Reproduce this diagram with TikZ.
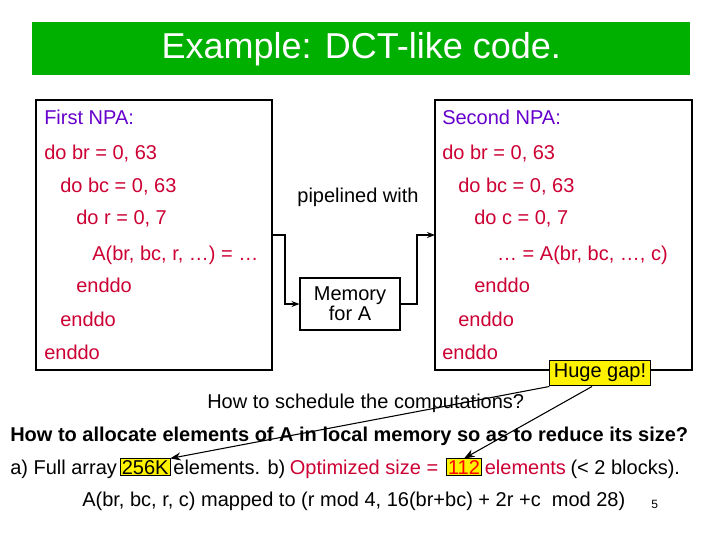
\documentclass[tikz,border=0pt]{standalone}
\usepackage{fontspec}
\setmainfont{Liberation Sans}
\usetikzlibrary{positioning, arrows, arrows.meta, calc}
\definecolor{npapurple}{RGB}{102,0,204}
\definecolor{codered}{RGB}{204,0,51}
\definecolor{titlegreen}{RGB}{0,176,0}
\tikzset{
	every edge/.style={draw, ->, >=stealth, thick},
	code/.style={anchor=base west, inner sep=0pt, text=codered, font=\fontsize{15}{17}\selectfont},
	txt/.style={anchor=base west, inner sep=0pt, font=\fontsize{15}{17}\selectfont},
	hl/.style={draw, fill=yellow, inner sep=1pt, font=\fontsize{15}{17}\selectfont}
}
\begin{document}
\begin{tikzpicture}[x=0.75pt, y=-0.75pt, box/.style={draw, thick}]
	\useasboundingbox (0,0) rectangle (720,540);
	% title
	\node[fill=titlegreen, minimum width=658*0.75pt, minimum height=53*0.75pt, anchor=north west, text=white, font=\fontsize{27}{30}\selectfont] (title) at (32,22) {Example: DCT-like code.};
	% the two loop nests
	\draw[box] (36,100) rectangle (272,370);
	\draw[box] (435,100) rectangle (692,370);
	\coordinate (L) at (272,235);
	\coordinate (R) at (435,235);
	\node[code, text=npapurple] (n1) at (44,124) {First NPA:};
	\node[code] (l1) at (44,159) {do br = 0, 63};
	\node[code] (l2) at (60,192) {do bc = 0, 63};
	\node[code] (l3) at (76,224) {do r = 0, 7};
	\node[code] (l4) at (92,260) {A(br, bc, r, …) = …};
	\node[code] (l5) at (76,292) {enddo};
	\node[code] (l6) at (60,326) {enddo};
	\node[code] (l7) at (44,359) {enddo};
	\node[code, text=npapurple] (n2) at (442,124) {Second NPA:};
	\node[code] (r1) at (442,159) {do br = 0, 63};
	\node[code] (r2) at (458,192) {do bc = 0, 63};
	\node[code] (r3) at (474,224) {do c = 0, 7};
	\node[code, anchor=base east] (r4) at (668,260) {… = A(br, bc, …, c)};
	\node[code] (r5) at (474,292) {enddo};
	\node[code] (r6) at (458,326) {enddo};
	\node[code] (r7) at (442,359) {enddo};
	\node[txt, anchor=base] (pipe) at (358,202) {pipelined with};
	\node[draw, thick, minimum width=100*0.75pt, minimum height=52*0.75pt, align=center, inner sep=1pt, font=\fontsize{15}{15}\selectfont] (mem) at (350,304) {Memory\\for A};
	\draw[-{Stealth[length=6pt]}, thick] (L) -| (285,304) -- (mem.west);
	\draw[-{Stealth[length=6pt]}, thick] (mem.east) -| (417,235) -- (R);
	% questions
	\node[txt] (q1) at (207,408) {How to schedule the computations?};
	\node[txt, font=\fontsize{15}{17}\selectfont\bfseries] (q2) at (10,441) {How to allocate elements of A in local memory so as to reduce its size?};
	\node[txt] (a1) at (10,474) {a) Full array};
	\node[hl, anchor=base west] (k256) at ($(a1.base east)+(3,0)$) {256K};
	\node[txt] (a2) at ($(k256.base east)+(3,0)$) {elements. b)};
	\node[txt, text=codered] (a3) at ($(a2.base east)+(4,0)$) {Optimized size =};
	\node[hl, anchor=base west, text=red] (k112) at ($(a3.base east)+(8,0)$) {112};
	\node[txt, text=codered] (a4) at ($(k112.base east)+(3,0)$) {elements};
	\node[txt] (a5) at ($(a4.base east)+(4,0)$) {(< 2 blocks).};
	\node[txt] (map) at (82,506) {A(br, bc, r, c) mapped to (r mod 4, 16(br+bc) + 2r +c~~mod 28)};
	\node[txt, font=\fontsize{9}{10}\selectfont] (pg) at (651,508) {5};
	\node[hl, thick, inner sep=3pt] (gap) at (600,373) {Huge gap!};
	\draw (gap.south west) edge[-{Stealth[length=8pt]}] (k256.north east);
	\draw ($(gap.south)+(-8,0)$) edge[-{Stealth[length=8pt]}] (k112.north);
\end{tikzpicture}
\end{document}
